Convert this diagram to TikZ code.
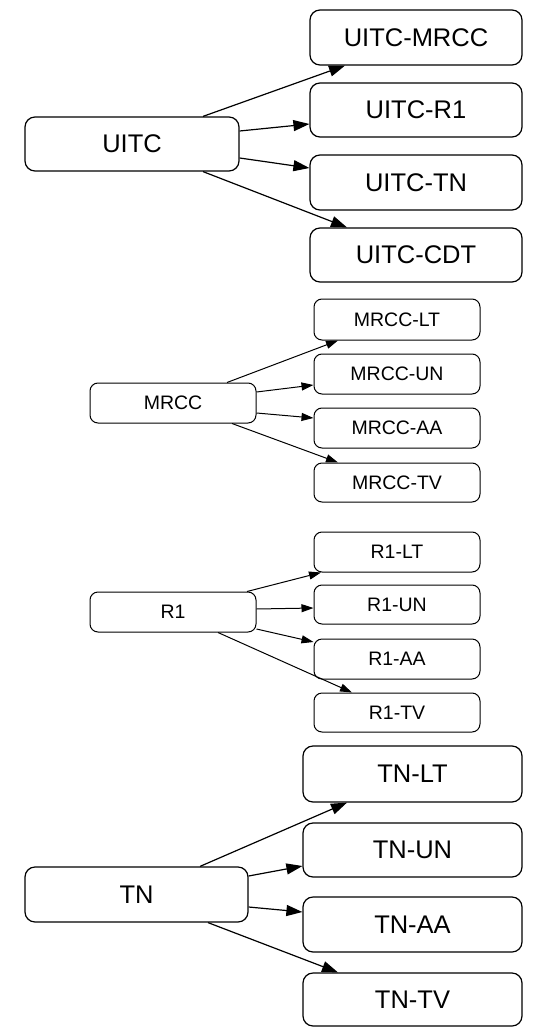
\documentclass[tikz,border=0pt]{standalone}
\usepackage{fontspec}
\setmainfont{Liberation Sans}
\usetikzlibrary{arrows.meta}
\begin{document}
\begin{tikzpicture}[x=1pt,y=-1pt,
  bigbox/.style={draw, rounded corners=10pt, line width=1.2pt, inner sep=0pt,
     font=\fontsize{25.5}{30}\selectfont},
  smallbox/.style={draw, rounded corners=8pt, line width=1pt, inner sep=0pt,
     font=\fontsize{19.5}{23}\selectfont},
  bigarr/.style={line width=1.2pt, -{Triangle[length=16pt,width=11pt]}},
  smallarr/.style={line width=1pt, -{Triangle[length=12pt,width=8pt]}}]
\useasboundingbox (0,0) rectangle (542,1027);
% UITC group
\node[bigbox, minimum width=214pt, minimum height=54pt] (uitc) at (132,144) {UITC};
\node[bigbox, minimum width=212pt, minimum height=55pt] (umrcc) at (416,37.5) {UITC-MRCC};
\node[bigbox, minimum width=212pt, minimum height=54pt] (ur1) at (416,110) {UITC-R1};
\node[bigbox, minimum width=212pt, minimum height=55pt] (utn) at (416,182.5) {UITC-TN};
\node[bigbox, minimum width=212pt, minimum height=54pt] (ucdt) at (416,255) {UITC-CDT};
\draw[bigarr] ([xshift=71pt]uitc.north) -- ([xshift=-71pt]umrcc.south);
\draw[bigarr] ([yshift=13pt]uitc.east) -- ([yshift=-14pt]ur1.west);
\draw[bigarr] ([yshift=-14pt]uitc.east) -- ([yshift=14.5pt]utn.west);
\draw[bigarr] ([xshift=71pt]uitc.south) -- ([xshift=-69pt]ucdt.north);
% MRCC group
\node[smallbox, minimum width=166pt, minimum height=40pt] (mrcc) at (173,403) {MRCC};
\node[smallbox, minimum width=166pt, minimum height=41pt] (mlt) at (397,319.5) {MRCC-LT};
\node[smallbox, minimum width=166pt, minimum height=40pt] (mun) at (397,374) {MRCC-UN};
\node[smallbox, minimum width=166pt, minimum height=40pt] (maa) at (397,428) {MRCC-AA};
\node[smallbox, minimum width=166pt, minimum height=39pt] (mtv) at (397,482.5) {MRCC-TV};
\draw[smallarr] ([xshift=54pt]mrcc.north) -- ([xshift=-59pt]mlt.south);
\draw[smallarr] ([yshift=11pt]mrcc.east) -- ([yshift=-11pt]mun.west);
\draw[smallarr] ([yshift=-10pt]mrcc.east) -- ([yshift=10pt]maa.west);
\draw[smallarr] ([xshift=59pt]mrcc.south) -- ([xshift=-59pt]mtv.north);
% R1 group
\node[smallbox, minimum width=166pt, minimum height=40pt] (r1) at (173,612) {R1};
\node[smallbox, minimum width=166pt, minimum height=40pt] (rlt) at (397,552) {R1-LT};
\node[smallbox, minimum width=166pt, minimum height=39pt] (run) at (397,604.5) {R1-UN};
\node[smallbox, minimum width=166pt, minimum height=40pt] (raa) at (397,659) {R1-AA};
\node[smallbox, minimum width=166pt, minimum height=39pt] (rtv) at (397,712.5) {R1-TV};
\draw[smallarr] ([xshift=74pt]r1.north) -- ([xshift=-76pt]rlt.south);
\draw[smallarr] ([yshift=3pt]r1.east) -- ([yshift=-3.5pt]run.west);
\draw[smallarr] ([yshift=-17pt]r1.east) -- ([yshift=17pt]raa.west);
\draw[smallarr] ([xshift=45pt]r1.south) -- ([xshift=-45pt]rtv.north);
% TN group
\node[bigbox, minimum width=223pt, minimum height=55pt] (tn) at (136.5,894.5) {TN};
\node[bigbox, minimum width=219pt, minimum height=56pt] (tlt) at (412.5,774) {TN-LT};
\node[bigbox, minimum width=219pt, minimum height=54pt] (tun) at (412.5,850) {TN-UN};
\node[bigbox, minimum width=219pt, minimum height=55pt] (taa) at (412.5,924.5) {TN-AA};
\node[bigbox, minimum width=219pt, minimum height=53pt] (ttv) at (412.5,999.5) {TN-TV};
\draw[bigarr] ([xshift=63.5pt]tn.north) -- ([xshift=-65.5pt]tlt.south);
\draw[bigarr] ([yshift=18.5pt]tn.east) -- ([yshift=-16pt]tun.west);
\draw[bigarr] ([yshift=-12.5pt]tn.east) -- ([yshift=12.5pt]taa.west);
\draw[bigarr] ([xshift=71.5pt]tn.south) -- ([xshift=-74.5pt]ttv.north);
\end{tikzpicture}
\end{document}
